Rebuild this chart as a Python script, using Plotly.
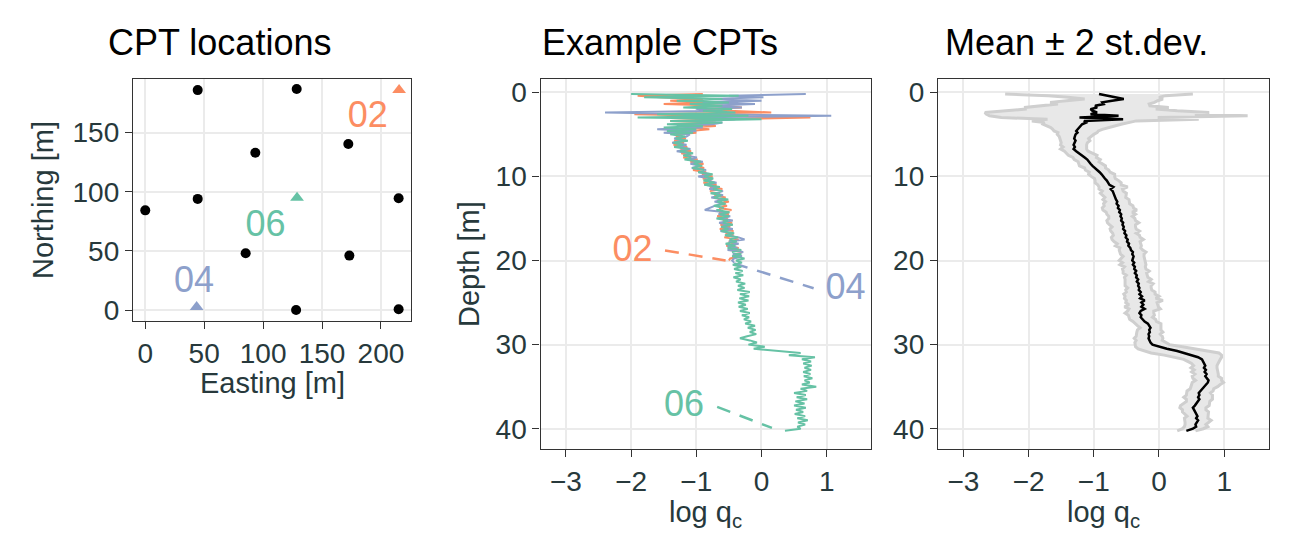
import numpy as np
import plotly.graph_objects as go

PAGE_W, PAGE_H = 1297, 534
OFF = 8  # default body margin of the html page
W, H = PAGE_W - OFF, PAGE_H - OFF

# ---------------- data ----------------
# CPT locations
east_other = [44.5, 128.5, 172.3, 93.4, 44.5, 0.0, 215.0, 85.2, 173.2, 128.0, 215.0]
north_other = [186.0, 187.0, 140.4, 133.0, 94.0, 84.3, 94.5, 48.0, 46.0, 0.0, 0.6]
cpt_ids = ["02", "04", "06"]
cpt_east = [215.4, 43.6, 128.8]
cpt_north = [186.0, 2.5, 95.0]
cpt_colors = ["#FC8D62", "#8DA0CB", "#66C2A5"]
map_label_east = [188.8, 41.3, 102.0]
map_label_north = [162.0, 23.0, 70.5]

# depth grid [m]
depth = [0.2, 0.4, 0.6, 0.8, 1.0, 1.2, 1.4, 1.6, 1.8, 2.0, 2.2, 2.4, 2.6, 2.8, 3.0, 3.2, 3.4,
         3.6, 3.8, 4.0, 4.2, 4.4, 4.6, 4.8, 5.0,
         5.25, 5.5, 5.75, 6.0, 6.25, 6.5, 6.75, 7.0, 7.25, 7.5, 7.75, 8.0, 8.25, 8.5, 8.75, 9.0,
         9.25, 9.5, 9.75, 10.0, 10.25, 10.5, 10.75, 11.0, 11.25, 11.5, 11.75, 12.0, 12.25, 12.5,
         12.75, 13.0, 13.25, 13.5, 13.75, 14.0, 14.25, 14.5, 14.75, 15.0, 15.25, 15.5, 15.75, 16.0,
         16.25, 16.5, 16.75, 17.0, 17.25, 17.5, 17.75, 18.0, 18.25, 18.5, 18.75, 19.0, 19.25, 19.5,
         19.75, 20.0, 20.25, 20.5, 20.75, 21.0, 21.25, 21.5, 21.75, 22.0, 22.25, 22.5, 22.75, 23.0,
         23.25, 23.5, 23.75, 24.0, 24.25, 24.5, 24.75, 25.0, 25.25, 25.5, 25.75, 26.0, 26.25, 26.5,
         26.75, 27.0, 27.25, 27.5, 27.75, 28.0, 28.25, 28.5, 28.75, 29.0, 29.25, 29.5, 29.75, 30.0,
         30.25, 30.5, 30.75, 31.0, 31.25, 31.5, 31.75, 32.0, 32.25, 32.5, 32.75, 33.0, 33.25, 33.5,
         33.75, 34.0, 34.25, 34.5, 34.75, 35.0, 35.25, 35.5, 35.75, 36.0, 36.25, 36.5, 36.75, 37.0,
         37.25, 37.5, 37.75, 38.0, 38.25, 38.5, 38.75, 39.0, 39.25, 39.5, 39.75, 40.0, 40.25]

# log qc of CPT 02 (to 20 m)
q02 = [-0.9, -1.9, -1.55, -0.9, -1.4, -0.8, -1.5, -0.6, -0.3, -0.9, -0.5, 0.15, -1.95, -0.5,
       0.75, -0.6, -1.4, -0.7, -1.2, -0.7, -1.1, -0.8, -1.1, -1.0, -1.3,
       -1.30, -1.16, -1.34, -1.19, -1.35, -1.14, -1.24, -1.08, -1.23, -1.08, -1.20, -0.98,
       -1.09, -0.89, -1.00, -0.88, -1.05, -0.85, -0.91, -0.75, -0.90, -0.77, -0.89, -0.69,
       -0.79, -0.60, -0.79, -0.64, -0.72, -0.55, -0.67, -0.50, -0.64, -0.53, -0.65, -0.46,
       -0.65, -0.50, -0.68, -0.52, -0.59, -0.45, -0.63, -0.48, -0.64, -0.43, -0.55, -0.43,
       -0.57, -0.35, -0.50, -0.42, -0.54, -0.35, -0.48, -0.30, -0.43, -0.31, -0.48, -0.50]

# log qc of CPT 04 (to 20.25 m)
q04 = [0.68, -0.5, 0.03, -0.8, 0.0, -0.9, -0.1, -0.8, -0.3, -1.0, -0.6, -2.4, -0.9, 1.07,
       -1.2, -0.4, -1.1, -0.6, -0.75, -1.3, -0.9, -1.6, -1.0, -1.5, -1.1,
       -1.15, -1.34, -1.20, -1.37, -1.15, -1.26, -1.09, -1.30, -1.10, -1.17, -0.99, -1.14,
       -0.90, -1.09, -0.94, -1.07, -0.85, -0.96, -0.77, -0.97, -0.75, -0.83, -0.69, -0.86,
       -0.69, -0.80, -0.59, -0.72, -0.59, -0.77, -0.58, -0.72, -0.59, -0.72, -0.79, -0.87,
       -0.54, -0.66, -0.48, -0.63, -0.44, -0.65, -0.51, -0.61, -0.44, -0.63, -0.45, -0.54,
       -0.35, -0.26, -0.50, -0.35, -0.52, -0.37, -0.52, -0.28, -0.44, -0.30, -0.42, -0.45,
       -0.42]

# log qc of CPT 06 (to 40.25 m)
q06 = [-2.0, -0.35, -1.8, -0.6, -1.3, -0.5, -1.1, -0.6, -1.2, -0.45, -0.9, -0.4, -1.6, -0.2,
       -1.9, 0.0, -1.4, -0.6, -1.45, -0.9, -1.5, -1.0, -1.45, -1.05, -1.4,
       -1.17, -1.32, -1.13, -1.35, -1.20, -1.34, -1.12, -1.25, -1.05, -1.20, -1.08, -1.18,
       -0.93, -1.04, -0.91, -1.06, -0.88, -0.97, -0.75, -0.88, -0.74, -0.89, -0.72, -0.88,
       -0.64, -0.74, -0.61, -0.78, -0.62, -0.73, -0.51, -0.68, -0.55, -0.73, -0.58, -0.69,
       -0.49, -0.64, -0.50, -0.69, -0.51, -0.59, -0.44, -0.62, -0.51, -0.62, -0.42, -0.56,
       -0.36, -0.49, -0.38, -0.55, -0.40, -0.52, -0.31, -0.45, -0.31, -0.45, -0.26, -0.39,
       -0.30, -0.44, -0.31, -0.42, -0.29, -0.40, -0.28, -0.43,
       -0.32, -0.39, -0.25, -0.36, -0.26, -0.37, -0.18, -0.33,
       -0.19, -0.34, -0.20, -0.36, -0.24, -0.35, -0.21, -0.33,
       -0.18, -0.30, -0.19, -0.27, -0.16, -0.25, -0.10, -0.21,
       -0.09, -0.18, -0.08, -0.22, -0.33, -0.18, -0.07, -0.20,
       0.05, -0.12, 0.25, 0.60, 0.42, 0.82, 0.62, 0.76,
       0.64, 0.77, 0.66, 0.76, 0.64, 0.75, 0.65, 0.78,
       0.66, 0.74, 0.62, 0.84, 0.60, 0.70, 0.50, 0.68,
       0.54, 0.70, 0.52, 0.66, 0.50, 0.68, 0.53, 0.64,
       0.51, 0.67, 0.55, 0.71, 0.56, 0.67, 0.55, 0.60,
       0.36]

# mean and standard deviation of log qc over all CPTs
q_mean = [-0.92, -0.80, -0.70, -0.54, -0.72, -0.87, -0.85, -0.98, -0.95, -1.05, -1.02, -0.95,
          -1.05, -0.62, -1.22, -0.55, -1.15, -1.12, -1.18, -1.20, -1.22, -1.25, -1.27, -1.25,
          -1.28,
          -1.29, -1.30, -1.28, -1.30, -1.31, -1.29, -1.31, -1.27,
          -1.22, -1.17, -1.14, -1.10, -1.08, -1.05, -1.02, -0.98,
          -0.95, -0.91, -0.88, -0.86, -0.83, -0.80, -0.78, -0.76,
          -0.70, -0.74, -0.71, -0.70, -0.68, -0.67, -0.66, -0.64,
          -0.65, -0.62, -0.63, -0.60, -0.61, -0.58, -0.59, -0.57,
          -0.58, -0.55, -0.56, -0.54, -0.55, -0.52, -0.53, -0.50,
          -0.51, -0.48, -0.49, -0.46, -0.47, -0.44, -0.43, -0.40,
          -0.41, -0.39, -0.40, -0.41, -0.38, -0.40, -0.37, -0.38,
          -0.35, -0.37, -0.34, -0.35, -0.32, -0.34, -0.31, -0.32,
          -0.30, -0.31, -0.28, -0.30, -0.26, -0.29, -0.22, -0.27,
          -0.24, -0.27, -0.22, -0.28, -0.30, -0.27, -0.28, -0.25,
          -0.22, -0.17, -0.15, -0.13, -0.15, -0.14, -0.16, -0.15,
          -0.16, -0.15, -0.13, -0.10, 0.00, 0.12, 0.28, 0.40,
          0.52, 0.60, 0.66, 0.68, 0.70, 0.71, 0.69, 0.72,
          0.70, 0.73, 0.71, 0.74, 0.76, 0.75, 0.72, 0.70,
          0.66, 0.63, 0.61, 0.62, 0.60, 0.62, 0.60, 0.58,
          0.55, 0.52, 0.54, 0.56, 0.58, 0.59, 0.57, 0.60,
          0.58, 0.56, 0.57, 0.52, 0.42]
q_sd = [0.72, 0.45, 0.35, 0.30, 0.35, 0.40, 0.35, 0.42, 0.55, 0.50, 0.65, 0.86, 0.80, 0.99,
        0.60, 0.58, 0.40, 0.32, 0.30, 0.26, 0.22, 0.19, 0.17, 0.15, 0.14,
        0.12, 0.11, 0.11, 0.10, 0.10, 0.09, 0.10, 0.09,
        0.10, 0.11, 0.09, 0.10, 0.08, 0.09, 0.10, 0.08,
        0.09, 0.08, 0.10, 0.09, 0.08, 0.09, 0.10, 0.09,
        0.11, 0.09, 0.08, 0.10, 0.09, 0.08, 0.10, 0.09,
        0.10, 0.11, 0.12, 0.13, 0.10, 0.11, 0.09, 0.10,
        0.11, 0.12, 0.10, 0.09, 0.10, 0.11, 0.09, 0.10,
        0.11, 0.12, 0.10, 0.09, 0.10, 0.08, 0.09, 0.10,
        0.09, 0.08, 0.09, 0.10, 0.09, 0.10, 0.08, 0.09,
        0.10, 0.09, 0.08, 0.09, 0.10, 0.09, 0.11, 0.10,
        0.09, 0.10, 0.11, 0.12, 0.13, 0.12, 0.14, 0.12,
        0.11, 0.13, 0.12, 0.10, 0.11, 0.10, 0.09, 0.10,
        0.09, 0.10, 0.09, 0.08, 0.09, 0.10, 0.09, 0.10,
        0.11, 0.10, 0.12, 0.13, 0.18, 0.22, 0.25, 0.26,
        0.22, 0.18, 0.14, 0.12, 0.10, 0.09, 0.10, 0.09,
        0.10, 0.09, 0.10, 0.11, 0.10, 0.12, 0.11, 0.10,
        0.09, 0.10, 0.09, 0.10, 0.11, 0.10, 0.09, 0.10,
        0.11, 0.10, 0.09, 0.10, 0.09, 0.08, 0.09, 0.10,
        0.09, 0.08, 0.09, 0.08, 0.07]

# label positions / leader lines in the example panel (log qc, depth)
ex_label_x = [-1.98, 1.29, -1.19]
ex_label_y = [18.96, 23.5, 37.4]
seg_x0 = [-1.48, -0.42, -0.68]
seg_y0 = [18.8, 20.35, 37.4]
seg_x1 = [-0.55, 0.80, 0.16]
seg_y1 = [20.0, 23.3, 39.9]

titles = ["CPT locations", "Example CPTs", "Mean \u00b1 2 st.dev."]


# ---------------- layout helpers (page pixels -> paper) ----------------
def px(x):
    return (x - OFF) / W


def py(y):
    return 1 - (y - OFF) / H


FONT = "Liberation Sans, Arial, sans-serif"
AX_COL = "#27393C"
tick_font = dict(family=FONT, size=28, color=AX_COL)

fig = go.Figure()

# panel 1: locations
fig.add_trace(go.Scatter(x=east_other, y=north_other, mode="markers",
                         marker=dict(color="black", size=10), xaxis="x", yaxis="y",
                         showlegend=False))
for i, cid in enumerate(cpt_ids):
    fig.add_trace(go.Scatter(x=[cpt_east[i]], y=[cpt_north[i]], mode="markers",
                             marker=dict(color=cpt_colors[i], size=12, symbol="triangle-up"),
                             xaxis="x", yaxis="y", showlegend=False))
    fig.add_trace(go.Scatter(x=[map_label_east[i]], y=[map_label_north[i]], mode="text",
                             text=[cid], textposition="middle center",
                             textfont=dict(family=FONT, size=36, color=cpt_colors[i]),
                             xaxis="x", yaxis="y", showlegend=False))

# panel 2: example CPTs
series = [q02, q04, q06]
for i, cid in enumerate(cpt_ids):
    fig.add_trace(go.Scatter(x=[seg_x0[i], seg_x1[i]], y=[seg_y0[i], seg_y1[i]], mode="lines",
                             line=dict(color=cpt_colors[i], width=2.5, dash="14px,10px"),
                             xaxis="x2", yaxis="y2", showlegend=False))
for i, cid in enumerate(cpt_ids):
    q = series[i]
    fig.add_trace(go.Scatter(x=q, y=depth[:len(q)], mode="lines",
                             line=dict(color=cpt_colors[i], width=2),
                             xaxis="x2", yaxis="y2", showlegend=False))
for i, cid in enumerate(cpt_ids):
    fig.add_trace(go.Scatter(x=[ex_label_x[i]], y=[ex_label_y[i]], mode="text",
                             text=[cid], textposition="middle center",
                             textfont=dict(family=FONT, size=36, color=cpt_colors[i]),
                             xaxis="x2", yaxis="y2", showlegend=False))

# panel 3: mean +- 2 sd
m = np.array(q_mean)
s = np.array(q_sd)
lo = m - 2 * s
hi = m + 2 * s
d = list(depth)
fig.add_trace(go.Scatter(x=list(lo) + list(hi[::-1]), y=d + d[::-1], mode="lines",
                         fill="toself", fillcolor="#E8E8E8", line=dict(width=0),
                         xaxis="x3", yaxis="y3", showlegend=False))
for arr in (lo, hi):
    fig.add_trace(go.Scatter(x=list(arr), y=d, mode="lines",
                             line=dict(color="#CFCFCF", width=3),
                             xaxis="x3", yaxis="y3", showlegend=False))
fig.add_trace(go.Scatter(x=q_mean, y=d, mode="lines", line=dict(color="black", width=2.5),
                         xaxis="x3", yaxis="y3", showlegend=False))

axis_common = dict(showline=True, mirror=True, linecolor="#333333", linewidth=1.3,
                   ticks="outside", ticklen=7, tickwidth=1.3, tickcolor="#333333",
                   showgrid=True, gridcolor="#EBEBEB", gridwidth=1.8, zeroline=False,
                   tickfont=tick_font, automargin=False)

p1x = [px(133), px(411)]
p1y = [py(321), py(79)]
p2x = [px(540.5), px(871)]
p3x = [px(938), px(1268.5)]
p23y = [py(449), py(79)]

layout = dict(
    width=W, height=H, margin=dict(l=0, r=0, t=0, b=0, autoexpand=False),
    paper_bgcolor="white", plot_bgcolor="white", showlegend=False,
    xaxis=dict(domain=p1x, range=[-10.4, 225.5], tickvals=[0, 50, 100, 150, 200],
               anchor="y", **axis_common),
    yaxis=dict(domain=p1y, range=[-9.3, 195.4], tickvals=[0, 50, 100, 150],
               anchor="x", **axis_common),
    xaxis2=dict(domain=p2x, range=[-3.39, 1.68], tickvals=[-3, -2, -1, 0, 1],
                ticktext=["\u22123", "\u22122", "\u22121", "0", "1"],
                anchor="y2", **axis_common),
    yaxis2=dict(domain=p23y, range=[42.41, -1.58], tickvals=[0, 10, 20, 30, 40],
                anchor="x2", **axis_common),
    xaxis3=dict(domain=p3x, range=[-3.39, 1.68], tickvals=[-3, -2, -1, 0, 1],
                ticktext=["\u22123", "\u22122", "\u22121", "0", "1"],
                anchor="y3", **axis_common),
    yaxis3=dict(domain=p23y, range=[42.41, -1.58], tickvals=[0, 10, 20, 30, 40],
                anchor="x3", **axis_common),
)
fig.update_layout(**layout)

ann = []
title_x = [219, 660, 1076]
for t, tx in zip(titles, title_x):
    ann.append(dict(text=t, x=px(tx), y=py(43), xref="paper", yref="paper",
                    xanchor="center", yanchor="middle", showarrow=False,
                    font=dict(family=FONT, size=36, color="black")))
ax_font = dict(family=FONT, size=29, color=AX_COL)
ann.append(dict(text="Easting [m]", x=px(272), y=py(383), xref="paper", yref="paper",
                xanchor="center", yanchor="middle", showarrow=False, font=ax_font))
ann.append(dict(text="Northing [m]", x=px(43), y=py(200), xref="paper", yref="paper",
                xanchor="center", yanchor="middle", showarrow=False, font=ax_font,
                textangle=-90))
ann.append(dict(text="Depth [m]", x=px(469), y=py(264), xref="paper", yref="paper",
                xanchor="center", yanchor="middle", showarrow=False, font=ax_font,
                textangle=-90))
for cx in (705.7, 1103):
    ann.append(dict(text="log q<sub>c</sub>", x=px(cx), y=py(514), xref="paper", yref="paper",
                    xanchor="center", yanchor="middle", showarrow=False, font=ax_font))
fig.update_layout(annotations=ann)

fig.write_html("out.html")
